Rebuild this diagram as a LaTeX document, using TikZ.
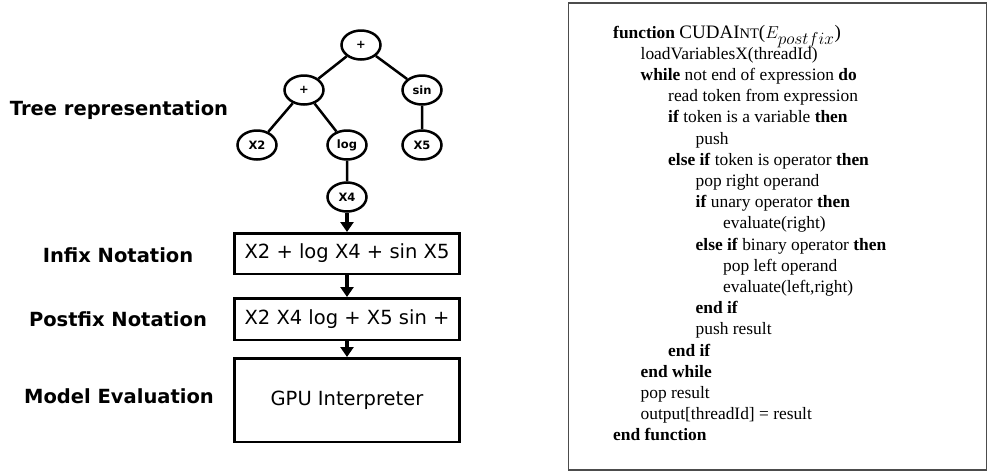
\documentclass[tikz,border=0pt]{standalone}
\usepackage{fontspec}
\setmainfont{Liberation Serif}
\newfontfamily\dejavu{DejaVu Sans}
\usetikzlibrary{arrows.meta,shapes.geometric}
\newcommand{\smallcap}[1]{{\fontsize{14.5}{14.5}\selectfont #1}}
\newcommand{\subidx}[1]{\mbox{\fontsize{16}{16}\selectfont$#1$}}

\begin{document}
\begin{tikzpicture}[x=1pt, y=-1pt,
	treenode/.style={draw,ellipse,line width=2.5pt,inner sep=0pt,minimum width=39pt,minimum height=29pt,font=\dejavu\bfseries\fontsize{11.5}{11.5}\selectfont},
	notebox/.style={draw,rectangle,line width=2.5pt,inner sep=0pt,minimum width=225pt,font=\dejavu\fontsize{19.5}{19.5}\selectfont},
	sidelabel/.style={inner sep=0pt,font=\dejavu\bfseries\fontsize{19.5}{19.5}\selectfont},
	codeline/.style={anchor=base west,inner sep=0pt,font=\fontsize{17.4}{17.4}\selectfont},
	algobox/.style={draw=black!70,line width=1.5pt,inner sep=0pt,minimum width=418pt,minimum height=467pt},
	flow/.style={line width=4pt,-{Triangle[width=13pt,length=10pt]}},
	edge/.style={line width=2.5pt}]
	\useasboundingbox (0,0) rectangle (988,475);

	% expression tree
	\path (361,45) node[treenode] (root) {+}
	(304,90) node[treenode] (plus) {+}
	(422,90) node[treenode] (sin) {sin}
	(257,145) node[treenode] (x2) {X2}
	(347,145) node[treenode] (log) {log}
	(422,145) node[treenode] (x5) {X5}
	(347,197) node[treenode] (x4) {X4};

	\draw[edge] (root) -- (plus)
	(root) -- (sin)
	(plus) -- (x2)
	(plus) -- (log)
	(log) -- (x4)
	(sin) -- (x5);

	% notation boxes
	\node[notebox,minimum height=40.5pt] (infix) at (347,253.5) {X2 + log X4 + sin X5};
	\node[notebox,minimum height=41.5pt] (postfix) at (347,319) {X2 X4 log + X5 sin +};
	\node[notebox,minimum height=83.5pt] (gpu) at (347,400) {GPU Interpreter};

	\draw[flow] (x4) -- (infix);
	\draw[flow] (infix) -- (postfix);
	\draw[flow] (postfix) -- (gpu);

	% labels on the left
	\node[sidelabel] (treelab) at (119,110) {Tree representation};
	\node[sidelabel] (infixlab) at (118,255) {Infix Notation};
	\node[sidelabel] (postfixlab) at (118,319) {Postfix Notation};
	\node[sidelabel] (evallab) at (119,396) {Model Evaluation};

	% algorithm
	\node[algobox] (algo) at (777.5,236.5) {};
	\foreach \ind/\txt [count=\k] in {
		0/{\textbf{function} {\fontsize{19}{19}\selectfont CUDAI\smallcap{NT}($E_{\subidx{postfix}}$)}},
		1/{loadVariablesX(threadId)},
		1/{\textbf{while} not end of expression \textbf{do}},
		2/{read token from expression},
		2/{\textbf{if} token is a variable \textbf{then}},
		3/{push},
		2/{\textbf{else if} token is operator \textbf{then}},
		3/{pop right operand},
		3/{\textbf{if} unary operator \textbf{then}},
		4/{evaluate(right)},
		3/{\textbf{else if} binary operator \textbf{then}},
		4/{pop left operand},
		4/{evaluate(left,right)},
		3/{\textbf{end if}},
		3/{push result},
		2/{\textbf{end if}},
		1/{\textbf{end while}},
		1/{pop result},
		1/{output[threadId] = result},
		0/{\textbf{end function}}}
		\node[codeline] (line\k) at ({613+27.5*\ind},{16.8+21.2*\k}) {\txt};
\end{tikzpicture}
\end{document}
